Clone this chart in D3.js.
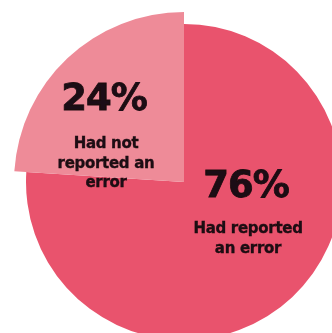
<!DOCTYPE html>
<html>
<head>
<meta charset="utf-8">
<script src="https://cdn.jsdelivr.net/npm/d3@7"></script>
<style>
  html, body { margin: 0; padding: 0; background: #ffffff; }
  svg { display: block; }
  text { font-family: "DejaVu Sans", Lato, sans-serif; fill: #1c0c12; stroke: #1c0c12; }
</style>
</head>
<body>
<div id="chart"></div>
<script>
// Survey result: share of respondents who had / had not reported an error
const categories = ["Had reported an error", "Had not reported an error"];
const values = [76, 24];
const captionLines = [["Had reported", "an error"], ["Had not", "reported an", "error"]];
const colors = ["#e9536d", "#ee8b98"];

const width = 332, height = 333;
const cx = 184, cy = 182;
const radius = 158;

const svg = d3.select("#chart").append("svg")
  .attr("width", width)
  .attr("height", height);

const defs = svg.append("defs");
defs.append("filter").attr("id", "soft")
  .append("feGaussianBlur").attr("stdDeviation", 0.5);

const pie = d3.pie().sort(null).value(d => d.value);
const arcs = pie(categories.map((c, i) => ({ category: c, value: values[i], lines: captionLines[i], color: colors[i] })));

const g = svg.append("g")
  .attr("transform", `translate(${cx},${cy})`)
  .attr("filter", "url(#soft)");

// the smaller slice is emphasised with a larger radius
const outerR = i => i === 1 ? radius + 12 : radius;

g.selectAll("path.slice")
  .data(arcs)
  .join("path")
  .attr("class", "slice")
  .attr("fill", d => d.data.color)
  .attr("d", (d, i) => d3.arc().innerRadius(0).outerRadius(outerR(i))(d));

// label anchors relative to the pie centre
const labelAnchor = [[62, 28], [-80, -47]];

const labels = g.selectAll("g.label")
  .data(arcs)
  .join("g")
  .attr("class", "label")
  .attr("transform", (d, i) => `translate(${labelAnchor[i][0]},${labelAnchor[i][1]})`)
  .attr("text-anchor", "middle");

labels.append("text")
  .attr("y", (d, i) => i === 0 ? -13 : -25)
  .attr("font-size", 37)
  .attr("font-weight", 700)
  .attr("stroke-width", 0.8)
  .attr("letter-spacing", -1)
  .text(d => `${d.data.value}%`);

labels.each(function(d, i) {
  const sel = d3.select(this);
  const top = i === 0 ? 23 : 13;
  d.data.lines.forEach((line, k) => {
    sel.append("text")
      .attr("x", 2)
      .attr("y", top + k * 19.5)
      .attr("font-size", 15)
      .attr("font-weight", 700)
      .attr("stroke-width", 0.35)
      .attr("letter-spacing", -0.3)
      .text(line);
  });
});
</script>
</body>
</html>
